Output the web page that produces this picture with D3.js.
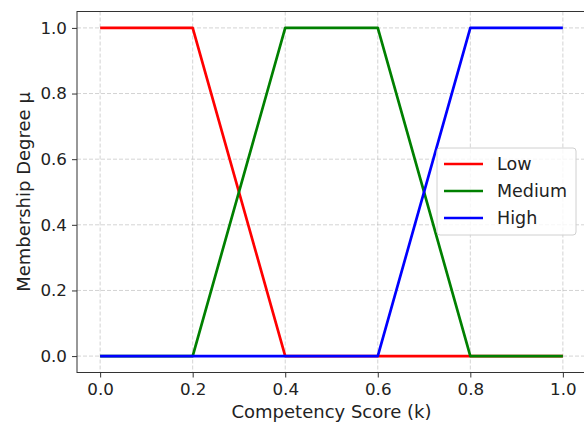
<!DOCTYPE html>
<html>
<head>
<meta charset="utf-8">
<script src="https://cdn.jsdelivr.net/npm/d3@7"></script>
<style>
  body { margin: 0; background: #fff; }
  svg text { font-family: "DejaVu Sans", sans-serif; fill: #222; }
</style>
</head>
<body>
<script>
// membership function breakpoints (k, mu)
const kPoints = [0.0, 0.2, 0.4, 0.6, 0.8, 1.0];
const lowMu = [1, 1, 0, 0, 0, 0];
const mediumMu = [0, 0, 1, 1, 0, 0];
const highMu = [0, 0, 0, 0, 1, 1];
const seriesNames = ["Low", "Medium", "High"];
const seriesColors = ["#ff0000", "#008000", "#0000ff"];
const xTicks = [0.0, 0.2, 0.4, 0.6, 0.8, 1.0];
const yTicks = [0.0, 0.2, 0.4, 0.6, 0.8, 1.0];

const W = 584, H = 424;
const plotL = 77, plotT = 11.5, plotR = 586, plotB = 372.5;

const svg = d3.select("body").append("svg")
    .attr("width", W)
    .attr("height", H);

const x = d3.scaleLinear().domain([-0.05, 1.05]).range([plotL, plotR]);
const y = d3.scaleLinear().domain([-0.05, 1.05]).range([plotB, plotT]);

// grid
const grid = svg.append("g");
grid.selectAll(".vg").data(xTicks).join("line")
    .attr("x1", d => x(d)).attr("x2", d => x(d))
    .attr("y1", plotT).attr("y2", plotB)
    .attr("stroke", "#b0b0b0").attr("stroke-opacity", 0.7)
    .attr("stroke-width", 0.8).attr("stroke-dasharray", "4,2");
grid.selectAll(".hg").data(yTicks).join("line")
    .attr("x1", plotL).attr("x2", plotR)
    .attr("y1", d => y(d)).attr("y2", d => y(d))
    .attr("stroke", "#b0b0b0").attr("stroke-opacity", 0.7)
    .attr("stroke-width", 0.8).attr("stroke-dasharray", "4,2");

// lines
const allSeries = [lowMu, mediumMu, highMu];
const line = d3.line().x((d, i) => x(kPoints[i])).y(d => y(d));
svg.append("g").selectAll("path").data(allSeries).join("path")
    .attr("d", d => line(d))
    .attr("fill", "none")
    .attr("stroke", (d, i) => seriesColors[i])
    .attr("stroke-width", 2.7)
    .attr("stroke-linejoin", "round");

// axes frame
svg.append("rect")
    .attr("x", plotL).attr("y", plotT)
    .attr("width", plotR - plotL).attr("height", plotB - plotT)
    .attr("fill", "none").attr("stroke", "#333").attr("stroke-width", 1);

const xAxis = svg.append("g")
    .attr("transform", `translate(0,${plotB})`)
    .call(d3.axisBottom(x).tickValues(xTicks).tickFormat(d3.format(".1f")).tickSize(5).tickPadding(6));
const yAxis = svg.append("g")
    .attr("transform", `translate(${plotL},0)`)
    .call(d3.axisLeft(y).tickValues(yTicks).tickFormat(d3.format(".1f")).tickSize(5).tickPadding(5));
[xAxis, yAxis].forEach(a => {
    a.select(".domain").remove();
    a.selectAll(".tick line").attr("stroke", "#333");
    a.selectAll(".tick text").style("font-size", "16.7px").attr("fill", "#222");
});

// axis labels
svg.append("text")
    .attr("x", x(0.5)).attr("y", 418)
    .attr("text-anchor", "middle")
    .style("font-size", "18px")
    .text("Competency Score (k)");
svg.append("text")
    .attr("transform", `translate(30,${y(0.5)}) rotate(-90)`)
    .attr("text-anchor", "middle")
    .style("font-size", "18px")
    .text("Membership Degree μ");

// legend
const legend = svg.append("g").attr("transform", "translate(437,148)");
legend.append("rect")
    .attr("width", 139).attr("height", 87).attr("rx", 3)
    .attr("fill", "#fff").attr("fill-opacity", 0.8)
    .attr("stroke", "#d0d0d0");
const item = legend.selectAll(".item").data(seriesNames).join("g")
    .attr("transform", (d, i) => `translate(0,${16 + i * 27})`);
item.append("line")
    .attr("x1", 7).attr("x2", 46)
    .attr("stroke", (d, i) => seriesColors[i]).attr("stroke-width", 2.7);
item.append("text")
    .attr("x", 60).attr("dy", "0.35em")
    .style("font-size", "17.5px")
    .text(d => d);
</script>
</body>
</html>
